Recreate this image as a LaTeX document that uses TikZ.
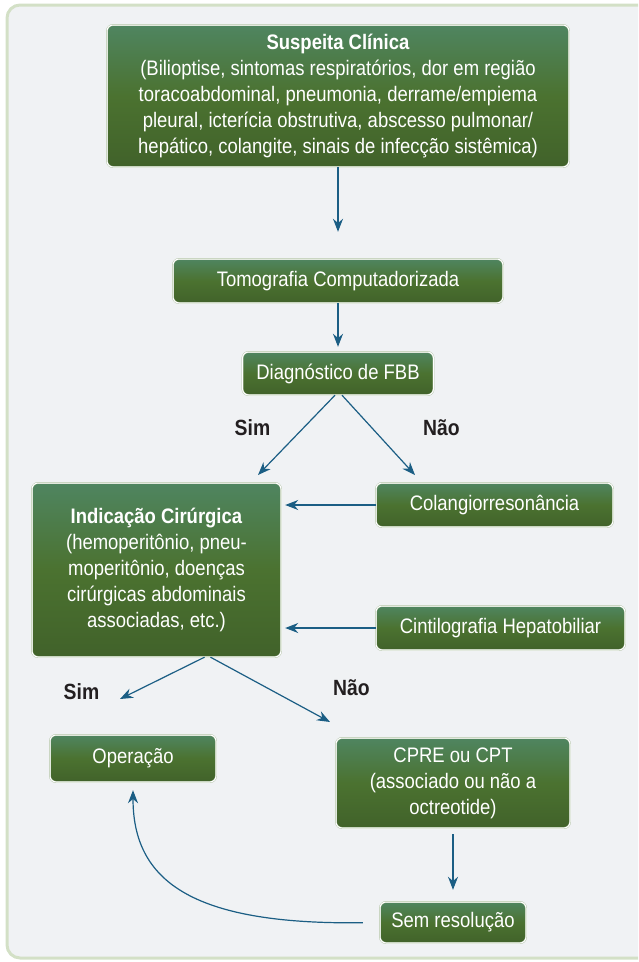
\documentclass[tikz,border=0pt]{standalone}
\usepackage{fontspec}
\setmainfont{Liberation Sans}[FakeStretch=0.88]
\usepackage{tikz}
\usetikzlibrary{arrows.meta}
\definecolor{framegreen}{HTML}{D3E0C6}
\definecolor{panelgray}{HTML}{F0F2F4}
\definecolor{boxteal}{HTML}{4F8560}
\definecolor{boxgreen}{HTML}{4B7230}
\definecolor{boxdark}{HTML}{41622A}
\definecolor{flowblue}{HTML}{1B5E84}
\definecolor{labeldark}{HTML}{231F20}

\begin{document}
\begin{tikzpicture}[x=1pt,y=-1pt,>={Stealth[length=13pt,width=10pt]},
  box/.style={draw=boxgreen!45,double=white,double distance=1pt,rounded corners=6pt,
    top color=boxteal,bottom color=boxdark,middle color=boxgreen,
    text=white,align=center,inner sep=0pt,font=\fontsize{21}{26}\selectfont},
  flow/.style={->,draw=flowblue,line width=1.2pt},
  answer/.style={text=labeldark,font=\fontsize{22}{24}\selectfont\bfseries}]
\useasboundingbox (0,0) rectangle (638,962);
\clip (0,0) rectangle (638,962);
\draw[rounded corners=13pt,draw=framegreen,line width=3pt,fill=panelgray] (7,5) rectangle (660,958);
\node[box,minimum width=462pt,minimum height=142pt] (susp) at (338,96)
  {\textbf{Suspeita Clínica}\\(Bilioptise, sintomas respiratórios, dor em região\\toracoabdominal, pneumonia, derrame/empiema\\pleural, icterícia obstrutiva, abscesso pulmonar/\\hepático, colangite, sinais de infecção sistêmica)};
\node[box,minimum width=330pt,minimum height=44pt] (tomo) at (338,281) {Tomografia Computadorizada};
\node[box,minimum width=191pt,minimum height=43pt] (diag) at (338,373.5) {Diagnóstico de FBB};
\node[box,minimum width=249pt,minimum height=174pt] (ind) at (156.5,570)
  {\textbf{Indicação Cirúrgica}\\(hemoperitônio, pneu-\\moperitônio, doenças\\cirúrgicas abdominais\\associadas, etc.)};
\node[box,minimum width=237pt,minimum height=44pt] (colang) at (494.5,505) {Colangiorresonância};
\node[box,minimum width=249pt,minimum height=44pt] (cint) at (500.5,628) {Cintilografia Hepatobiliar};
\node[box,minimum width=166pt,minimum height=47pt] (op) at (133,758.5) {Operação};
\node[box,minimum width=234pt,minimum height=90pt] (cpre) at (453,783)
  {CPRE ou CPT\\(associado ou não a\\octreotide)};
\node[box,minimum width=146pt,minimum height=41pt] (sem) at (453,922.5) {Sem resolução};
\node[answer] (sim1) at (252.5,428) {Sim};
\node[answer] (nao1) at (441.5,428) {Não};
\node[answer] (sim2) at (81.5,692) {Sim};
\node[answer] (nao2) at (351.5,688) {Não};
\coordinate (simtip1) at (258,475);
\coordinate (naotip1) at (415,475);
\coordinate (simtip2) at (120,699);
\coordinate (naotip2) at (330,722);
\draw[flow,shorten >=27pt] (susp.south)--(tomo.north);
\draw[flow,shorten >=5pt] (tomo.south)--(diag.north);
\draw[flow] ([xshift=-3pt]diag.south)--(simtip1);
\draw[flow] ([xshift=4pt]diag.south)--(naotip1);
\draw[flow,shorten >=4pt] (colang.west)--(colang.west -| ind.east);
\draw[flow,shorten >=4pt] (cint.west)--(cint.west -| ind.east);
\draw[flow] ([xshift=48pt]ind.south)--(simtip2);
\draw[flow] ([xshift=54pt]ind.south)--(naotip2);
\draw[flow,shorten <=6pt,shorten >=12pt] (cpre.south)--(sem.north);
\draw[flow,shorten <=17pt,shorten >=8pt] (sem.west) .. controls (190,925) and (133,880) .. (op.south);
\end{tikzpicture}
\end{document}
